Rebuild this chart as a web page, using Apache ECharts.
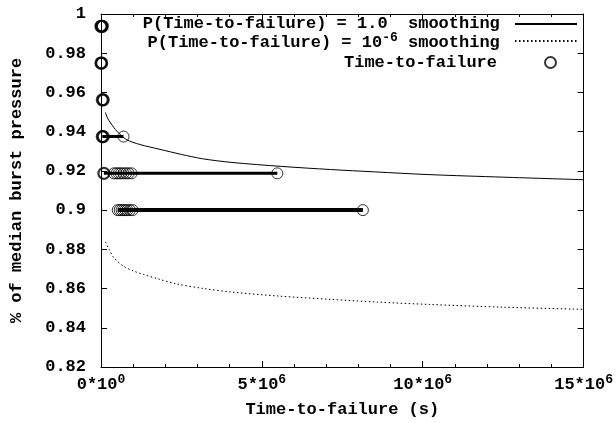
<!DOCTYPE html>
<html><head><meta charset="utf-8">
<script src="https://cdn.jsdelivr.net/npm/echarts@6/dist/echarts.min.js"></script>
<style>html,body{margin:0;padding:0;background:#fff}#c{width:616px;height:423px}</style>
</head><body><div id="c"></div>
<script>
const FONT = '"Liberation Mono", "DejaVu Sans Mono", monospace';

// axis ranges / ticks
const xTickValues = [0, 5e6, 10e6, 15e6];
const yTickValues = [0.82, 0.84, 0.86, 0.88, 0.9, 0.92, 0.94, 0.96, 0.98, 1];

// series names
const name1 = 'P(Time-to-failure) = 1.0 smoothing';
const name2 = 'P(Time-to-failure) = 10^-6 smoothing';
const name3 = 'Time-to-failure';

// P = 1.0 smoothing curve
const smooth1X = [0.14e6, 0.2e6, 0.3e6, 0.5e6, 0.8e6, 1.2e6, 1.8e6, 2.5e6, 3.15e6, 4.07e6, 5.6e6, 7.13e6, 8.5e6, 10.2e6, 12.5e6, 15e6];
const smooth1Y = [0.9498, 0.9470, 0.9444, 0.9401, 0.9359, 0.9335, 0.9311, 0.9284, 0.9262, 0.9243, 0.9223, 0.9207, 0.9195, 0.9181, 0.9168, 0.9155];

// P = 1e-6 smoothing curve
const smooth2X = [0.14e6, 0.25e6, 0.4e6, 0.7e6, 1.0e6, 1.32e6, 1.8e6, 2.34e6, 3.2e6, 4.07e6, 5.5e6, 7.13e6, 8.6e6, 10.2e6, 12.5e6, 15e6];
const smooth2Y = [0.8838, 0.8800, 0.8757, 0.8714, 0.8690, 0.8672, 0.8648, 0.8624, 0.8600, 0.8582, 0.8562, 0.8545, 0.8531, 0.8519, 0.8505, 0.8494];

// observed time-to-failure, per pressure level
const levels = [0.99375, 0.975, 0.95625, 0.9375, 0.91875, 0.9];
const times99375 = [0, 0.02e6, 0.04e6];
const times975 = [0, 0.02e6];
const times95625 = [0.04e6, 0.07e6];
const times9375 = [0.04e6, 0.07e6, 0.70e6];
const times91875 = [0.09e6, 0.40e6, 0.48e6, 0.55e6, 0.62e6, 0.70e6, 0.78e6, 0.86e6, 0.95e6, 5.48e6];
const times9 = [0.52e6, 0.58e6, 0.64e6, 0.70e6, 0.76e6, 0.82e6, 0.90e6, 0.98e6, 8.14e6];
const failTimes = [times99375, times975, times95625, times9375, times91875, times9];
const levelLineWidths = [0, 0, 0, 3, 3, 4];

const textBase = {fontFamily: FONT, fontWeight: 'bold', fontSize: 17, color: '#000'};
const supRich = {
  m: {fontFamily: FONT, fontWeight: 'bold', fontSize: 17, color: '#000', verticalAlign: 'bottom', lineHeight: 20},
  s: {fontFamily: FONT, fontWeight: 'bold', fontSize: 13, color: '#000', verticalAlign: 'top', lineHeight: 13}
};

const scatterData = [];
failTimes.forEach((arr, i) => arr.forEach(t => {
  scatterData.push({value: [t, levels[i]], itemStyle: {borderWidth: t < 0.1e6 ? 2.2 : 1}});
}));

const levelSeries = failTimes.map((arr, i) => ({
  type: 'line', silent: true, symbol: 'none', z: 2,
  data: arr.map(t => [t, levels[i]]),
  lineStyle: {color: '#000', width: levelLineWidths[i]}
})).filter((s, i) => levelLineWidths[i] > 0);

const axisCommon = {
  axisLine: {show: true, onZero: false, lineStyle: {color: '#000', width: 1}},
  axisTick: {show: true, inside: true, length: 6, lineStyle: {color: '#000'}},
  splitLine: {show: false}
};

const legendCommon = {orient: 'vertical', align: 'right', padding: 0, itemHeight: 10};

const option = {
  animation: false,
  backgroundColor: '#fff',
  grid: {left: 97, right: 29, top: 14, bottom: 55, containLabel: false},
  xAxis: [
    Object.assign({}, axisCommon, {
      type: 'value', min: 0, max: 15e6, interval: 5e6, position: 'bottom',
      minorTick: {show: true, splitNumber: 5, length: 3, lineStyle: {color: '#000'}},
      axisLabel: {
        margin: 6, interval: 0,
        formatter: v => '{m|' + (v / 1e6) + '*10}{s|' + (v === 0 ? 0 : 6) + '}',
        rich: supRich, lineHeight: 30
      },
      name: 'Time-to-failure (s)', nameLocation: 'middle', nameGap: 34,
      nameTextStyle: textBase
    }),
    Object.assign({}, axisCommon, {
      type: 'value', min: 0, max: 15e6, interval: 5e6, position: 'top',
      minorTick: {show: true, splitNumber: 5, length: 3, lineStyle: {color: '#000'}},
      axisLabel: {show: false}
    })
  ],
  yAxis: [
    Object.assign({}, axisCommon, {
      type: 'value', min: 0.82, max: 1.0, interval: 0.02, position: 'left',
      axisLabel: Object.assign({margin: 15, formatter: v => String(Math.round(v * 100) / 100)}, textBase),
      name: '% of median burst pressure', nameLocation: 'middle', nameGap: 76,
      nameTextStyle: textBase
    }),
    Object.assign({}, axisCommon, {
      type: 'value', min: 0.82, max: 1.0, interval: 0.02, position: 'right',
      axisLabel: {show: false}
    })
  ],
  legend: [
    Object.assign({}, legendCommon, {
      data: [name1], right: 38, top: 14, itemWidth: 62, icon: 'inherit', itemStyle: {opacity: 0},
      formatter: () => 'P(Time-to-failure) = 1.0  smoothing ',
      textStyle: Object.assign({lineHeight: 20}, textBase)}),
    Object.assign({}, legendCommon, {
      data: [name2], right: 38, top: 31, itemWidth: 62, icon: 'inherit', itemStyle: {opacity: 0},
      formatter: () => '{m|P(Time-to-failure) = 10}{s|-6}{m| smoothing }',
      textStyle: Object.assign({rich: supRich}, textBase)}),
    Object.assign({}, legendCommon, {
      data: [name3], right: 59, top: 54, itemWidth: 11, itemHeight: 11,
      formatter: () => '{m|Time-to-failure}',
      textStyle: Object.assign({rich: {m: {fontFamily: FONT, fontWeight: 'bold', fontSize: 17, color: '#000', lineHeight: 20, padding: [0, 43, 0, 0]}}}, textBase)})
  ],
  series: [
    {name: name1, type: 'line', symbol: 'none', smooth: 0.3, z: 2,
     data: smooth1X.map((x, i) => [x, smooth1Y[i]]),
     lineStyle: {color: '#000', width: 1}, itemStyle: {color: '#000'}},
    {name: name2, type: 'line', symbol: 'none', smooth: 0.3, z: 2,
     data: smooth2X.map((x, i) => [x, smooth2Y[i]]),
     lineStyle: {color: '#000', width: 1, type: [1.5, 2.5]}, itemStyle: {color: '#000'}},
    ...levelSeries,
    {name: name3, type: 'scatter', symbol: 'circle', symbolSize: 11, z: 3,
     data: scatterData,
     itemStyle: {color: 'rgba(0,0,0,0)', borderColor: '#000', borderWidth: 1}}
  ]
};

const chart = echarts.init(document.getElementById('c'), null, {renderer: 'canvas'});
chart.setOption(option);
</script>
</body></html>
